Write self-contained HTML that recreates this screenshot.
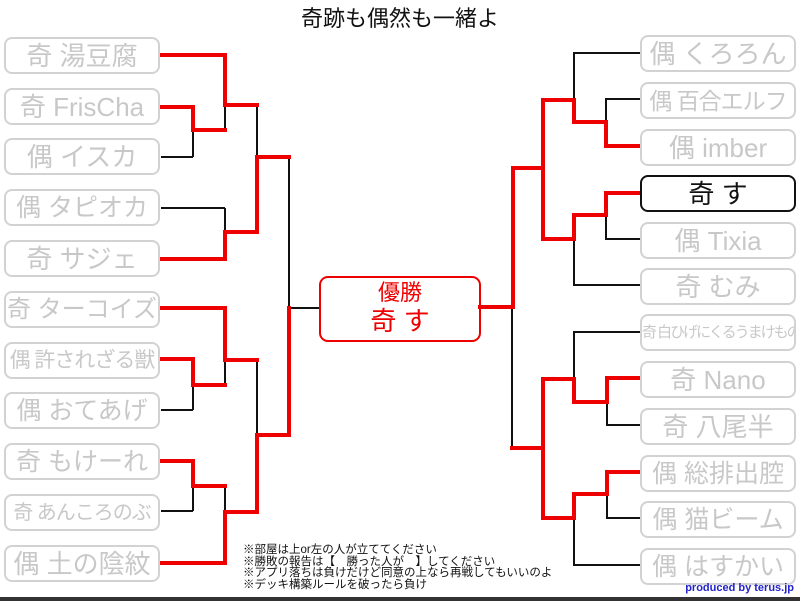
<!DOCTYPE html>
<html><head><meta charset="utf-8"><style>
html,body{margin:0;padding:0;background:#fff;}
body{width:800px;height:601px;position:relative;overflow:hidden;font-family:"Liberation Sans","Noto Sans CJK JP",sans-serif;}
.b{position:absolute;width:152px;height:33px;border:2px solid #d2d2d2;border-radius:8px;color:#c8c8c8;font-size:26px;line-height:34px;text-align:center;white-space:nowrap;background:#fff;overflow:hidden;}
.l{left:4px}.r{left:640px}
.t{position:absolute;left:0;width:800px;top:1px;text-align:center;font-size:22px;color:#111;}
.w{position:absolute;left:319px;top:276px;width:158px;height:62px;border:2px solid #e00;border-radius:9px;color:#e00;text-align:center;}
.foot{position:absolute;left:243px;top:545px;font-size:11.5px;line-height:11.5px;color:#111;white-space:nowrap;}
.pr{position:absolute;right:6px;top:582px;font-size:11px;font-weight:bold;color:#2222cc;}
.bot{position:absolute;left:0;top:597px;width:800px;height:4px;background:#333;}
</style></head><body>
<div class="t">奇跡も偶然も一緒よ</div>
<svg width="800" height="601" style="position:absolute;left:0;top:0">
<g stroke="#111" stroke-width="2" fill="none">
<path d="M225 105V130M193 130V157M161 157H193M257 105V157M289 157V308M161 208H225M225 208V232M225 360V385M193 385V410M161 410H193M257 360V435M193 486V511M161 511H193M225 486V512M289 308H320"/>
<path d="M640 53H574V100M640 99H606V122M606 216V239H640M574 239V285H640M512 307V448M640 332H574V379M607 402V425H640M607 494V518H640M574 518V565H640"/>
</g>
<g stroke="#ee0000" stroke-width="4" fill="none" stroke-linecap="square">
<path d="M161 55H225V105H257M161 107H193V130H225M257 157H289M257 157V232H225V259H161"/>
<path d="M161 308H225V360H257M161 359H193V385H225M289 308V435H257V512H225V563H161M161 461H193V486H225"/>
<path d="M480 307H513V168H543V100H574V122H606V146H640M543 168V239H574V215H606V193H640"/>
<path d="M543 448H512M543 379V518H574V494H607V472H640M543 379H574V402H607V378H640"/>
</g>
</svg>
<div class="b l" style="top:37px">奇 湯豆腐</div>
<div class="b l" style="top:88px">奇 FrisCha</div>
<div class="b l" style="top:138px">偶 イスカ</div>
<div class="b l" style="top:189px;font-size:25px">偶 タピオカ</div>
<div class="b l" style="top:240px">奇 サジェ</div>
<div class="b l" style="top:291px;font-size:24px">奇 ターコイズ</div>
<div class="b l" style="top:342px;font-size:21px;letter-spacing:-1px">偶 許されざる獣</div>
<div class="b l" style="top:392px;font-size:25px">偶 おてあげ</div>
<div class="b l" style="top:443px;font-size:25px">奇 もけーれ</div>
<div class="b l" style="top:494px;font-size:20px;letter-spacing:-1px">奇 あんころのぶ</div>
<div class="b l" style="top:545px">偶 土の陰紋</div>
<div class="b r" style="top:35px">偶 くろろん</div>
<div class="b r" style="top:82px;font-size:23px;letter-spacing:-1px">偶 百合エルフ</div>
<div class="b r" style="top:129px">偶 imber</div>
<div class="b r" style="top:175px;border-color:#111;color:#111">奇 す</div>
<div class="b r" style="top:222px">偶 Tixia</div>
<div class="b r" style="top:268px">奇 むみ</div>
<div class="b r" style="top:314px;font-size:15px;letter-spacing:-2px">奇 白ひげにくるうまけもの</div>
<div class="b r" style="top:361px">奇 Nano</div>
<div class="b r" style="top:408px">奇 八尾半</div>
<div class="b r" style="top:455px;font-size:25px">偶 総排出腔</div>
<div class="b r" style="top:501px;font-size:25px">偶 猫ビーム</div>
<div class="b r" style="top:548px;font-size:25px">偶 はすかい</div>
<div class="w"><div style="font-size:22px;line-height:26px;margin-top:2px">優勝</div><div style="font-size:26px;line-height:30px">奇 す</div></div>
<div class="foot">※部屋は上or左の人が立ててください<br>※勝敗の報告は【　勝った人が　】してください<br>※アプリ落ちは負けだけど同意の上なら再戦してもいいのよ<br>※デッキ構築ルールを破ったら負け</div>
<div class="pr">produced by terus.jp</div>
<div class="bot"></div>
</body></html>
